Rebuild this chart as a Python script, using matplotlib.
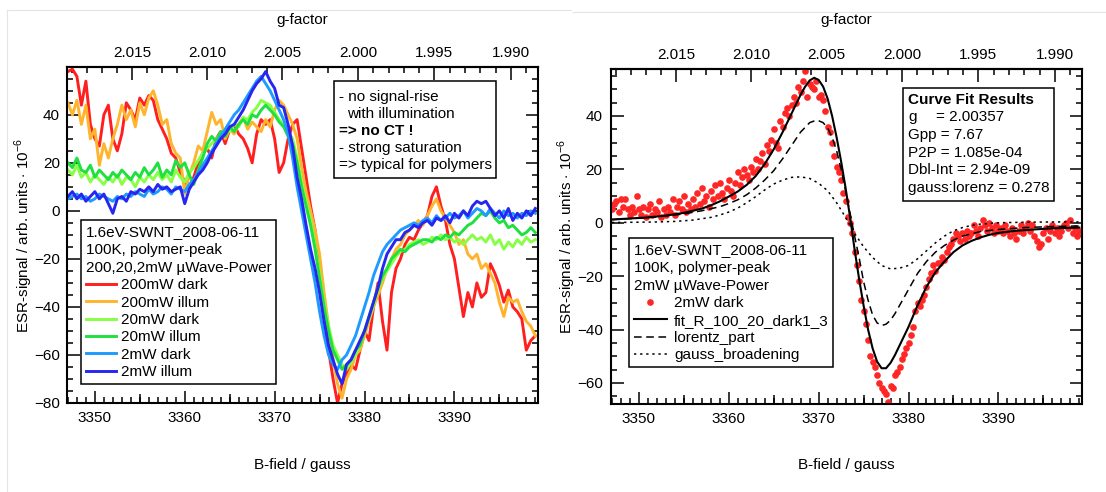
import numpy as np
import matplotlib
matplotlib.use("Agg")
import matplotlib.pyplot as plt
from matplotlib.ticker import MultipleLocator, FixedLocator, FormatStrFormatter
from matplotlib.patches import Rectangle
from matplotlib.lines import Line2D

np.seterr(divide='ignore', invalid='ignore')
plt.rcParams['font.family'] = ['Liberation Sans', 'DejaVu Sans']
plt.rcParams['mathtext.fontset'] = 'custom'
plt.rcParams['mathtext.rm'] = 'Liberation Sans'

# ------------------------------------------------------------------ data
G_CONST = 6758.6          # g * B  (gauss), converts field to g-factor
g_ticks = [2.015, 2.010, 2.005, 2.000, 1.995, 1.990]
b_ticks = [3350, 3360, 3370, 3380, 3390]
b_mid_ticks = [3355, 3365, 3375, 3385, 3395]

# left panel: field grid (0.5 G) and six spectra (1e-6 arb. units)
b_left = np.arange(3347.0, 3399.01, 0.5)

sig_200mw_dark = [
    58, 59, 56, 44, 54, 36, 30, 27, 40, 44,
    30, 25, 32, 45, 42, 38, 47, 44, 48, 46,
    38, 34, 30, 24, 22, 16, 12, 10, 14, 20,
    24, 26, 22, 30, 33, 28, 34, 36, 32, 30,
    26, 20, 32, 38, 36, 38, 30, 16, 20, 30,
    36, 38, 26, 14, 2, -8, -24, -42, -58, -70,
    -80, -72, -68, -64, -66, -58, -50, -54, -40, -30,
    -46, -58, -34, -24, -20, -14, -11, -12, -8, -5,
    -2, 6, 10, 2, -4, -14, -20, -32, -44, -34,
    -40, -30, -36, -34, -22, -26, -31, -38, -33, -40,
    -42, -45, -58, -54, -52]

sig_200mw_illum = [
    45, 40, 46, 36, 44, 30, 34, 19, 28, 22,
    30, 36, 44, 38, 42, 35, 45, 40, 47, 50,
    44, 36, 38, 28, 24, 22, 7, 15, 20, 27,
    25, 33, 41, 36, 38, 30, 34, 32, 36, 39,
    34, 37, 35, 33, 38, 35, 42, 46, 44, 40,
    36, 30, 18, 8, 0, -8, -18, -34, -48, -62,
    -72, -78, -70, -66, -60, -58, -52, -46, -40, -35,
    -30, -24, -20, -16, -14, -10, -8, -6, -4, -6,
    -2, 2, 5, 0, -3, -6, -9, -14, -12, -18,
    -20, -18, -24, -22, -26, -30, -38, -44, -36, -38,
    -37, -42, -46, -48, -52]

sig_20mw_dark = [
    17, 15, 19, 14, 16, 12, 15, 13, 11, 14,
    12, 15, 11, 14, 13, 10, 14, 12, 15, 13,
    16, 13, 15, 12, 17, 14, 12, 16, 18, 21,
    24, 26, 28, 30, 32, 34, 33, 36, 35, 39,
    38, 41, 43, 46, 45, 44, 41, 38, 36, 33,
    30, 22, 12, 4, -4, -14, -26, -38, -48, -56,
    -60, -64, -66, -63, -60, -56, -50, -45, -39, -33,
    -28, -25, -22, -19, -17, -16, -14, -13, -12, -14,
    -13, -11, -12, -10, -12, -11, -13, -12, -14, -12,
    -10, -12, -11, -13, -10, -14, -12, -16, -13, -15,
    -12, -14, -11, -13, -12]

sig_20mw_illum = [
    20, 18, 22, 17, 16, 19, 14, 17, 15, 13,
    16, 14, 17, 15, 13, 16, 14, 18, 15, 17,
    20, 14, 17, 15, 21, 18, 20, 15, 11, 17,
    22, 28, 31, 29, 33, 31, 35, 33, 36, 38,
    36, 40, 39, 42, 44, 42, 40, 37, 35, 31,
    28, 20, 10, 2, -6, -16, -28, -40, -50, -58,
    -62, -66, -64, -62, -58, -56, -50, -44, -38, -32,
    -27, -24, -20, -18, -16, -17, -15, -14, -13, -12,
    -12, -13, -11, -12, -10, -11, -9, -10, -8, -6,
    -5, -3, -1, -2, 0, -3, -5, -4, -7, -6,
    -8, -10, -9, -7, -9]

sig_2mw_dark = [
    5, 6, 7, 5, 6, 4, 5, 7, 6, 5,
    4, 6, 5, 7, 6, 8, 7, 6, 9, 7,
    8, 10, 9, 7, 10, 9, 8, 11, 13, 16,
    19, 22, 25, 28, 31, 34, 37, 40, 42, 45,
    48, 51, 54, 56, 53, 50, 46, 42, 38, 32,
    22, 10, 0, -10, -20, -30, -42, -52, -60, -64,
    -66, -62, -60, -56, -52, -46, -40, -34, -27, -22,
    -17, -14, -12, -10, -8, -7, -6, -5, -6, -4,
    -3, -5, -2, -4, -3, -1, -3, -2, 0, -3,
    -1, 1, 0, -2, 1, -1, -3, 0, -2, -1,
    -3, -1, -2, 0, -1]

sig_2mw_illum = [
    6, 8, 5, 7, 4, 6, 8, 5, 7, 3,
    -1, 5, 6, 4, 8, 7, 9, 8, 10, 8,
    11, 9, 10, 8, 9, 10, 3, 9, 12, 15,
    17, 20, 24, 27, 30, 32, 35, 36, 39, 42,
    46, 50, 53, 55, 58, 54, 51, 44, 43, 36,
    27, 14, 5, -6, -16, -24, -34, -46, -56, -62,
    -68, -72, -64, -62, -58, -54, -50, -44, -38, -32,
    -24, -18, -15, -12, -12, -9, -8, -6, -7, -5,
    -4, -6, -3, -4, -2, -5, -1, -3, 0, -2,
    2, 4, 3, 4, 1, -2, 0, -3, 1, -4,
    -1, -3, 0, -2, 1]

left_names = ["200mW dark", "200mW illum", "20mW dark", "20mW illum", "2mW dark", "2mW illum"]
left_values = [sig_200mw_dark, sig_200mw_illum, sig_20mw_dark, sig_20mw_illum, sig_2mw_dark, sig_2mw_illum]
left_colors = ["#ff1f1f", "#ffb42e", "#86ff44", "#1ee03e", "#1e9bff", "#2626f0"]

# right panel: measured points (0.25 G grid) and fit components
b_dots = np.arange(3347.0, 3399.01, 0.25)
dots_2mw_dark = [
    5, 7, 8, 4, 9, 6, 9, 5, 3, 6, 4, 10, 5, 3, 6, 2, 5, 7, 3, 5,
    4, 8, 2, 5, 3, 6, 4, 9, 3, 6, 8, 5, 10, 4, 7, 5, 9, 6, 11, 7,
    13, 8, 10, 6, 12, 9, 14, 10, 15, 11, 9, 13, 16, 12, 10, 15, 19, 14, 17, 20,
    18, 16, 21, 19, 24, 20, 23, 26, 22, 29, 27, 31, 35, 30, 28, 38, 36, 41, 43, 40,
    44, 47, 45, 51, 49, 53, 57, 47, 52, 51, 50, 53, 47, 48, 46, 42, 36, 34, 30, 25,
    21, 19, 16, 11, 8, 2, 0, -4, -11, -16, -22, -29, -33, -38, -44, -50, -52, -54, -57, -60,
    -62, -63, -64, -67, -61, -62, -57, -56, -54, -51, -49, -47, -45, -42, -39, -33, -30, -31, -29, -27,
    -24, -21, -19, -16, -18, -15, -15, -13, -14, -11, -9, -8, -6, -4, -5, -7, -4, -6, -3, -5,
    -4, -1, -3, -5, -2, 1, -1, -3, 0, -2, -4, -1, -3, -2, -4, -1, -3, -5, -2, -4,
    -6, -3, -1, -4, -2, 0, -3, -1, -5, -7, -9, -8, -4, -2, -6, -3, -1, -4, -2, -5,
    -3, -1, 0, -2, 1, -4, -2, -5, -3]

fit_b = [3347, 3349, 3351, 3353, 3355, 3357, 3358, 3359, 3360, 3361,
         3362, 3363, 3364, 3365, 3366, 3367, 3368, 3368.5, 3369, 3369.5,
         3370, 3370.5, 3371, 3371.5, 3372, 3372.5, 3373, 3373.5, 3374, 3374.5,
         3375, 3375.5, 3376, 3376.5, 3377, 3377.5, 3378, 3378.5, 3379, 3379.5,
         3380, 3381, 3382, 3383, 3384, 3385, 3386, 3387, 3388, 3389,
         3390, 3392, 3394, 3396, 3399]
fit_vals = [1.2, 1.6, 2.0, 2.7, 3.7, 5.3, 6.5, 8.0, 9.8, 11.7,
            14.2, 17.5, 22, 27.5, 34, 41, 48, 51, 53.3, 54.3,
            53.5, 51, 46.5, 40, 32, 23, 13, 2, -10, -21,
            -31, -40, -47, -52, -54.5, -54.5, -52.5, -49.5, -46, -42.5,
            -39, -31, -24, -18.5, -14.5, -11, -8.5, -6.8, -5.5, -4.5,
            -3.8, -3.0, -2.5, -2.1, -1.8]

lor_b = [3347, 3350, 3353, 3355, 3357, 3359, 3360, 3361, 3362, 3363,
         3364, 3365, 3366, 3367, 3368, 3369, 3369.8, 3370.5, 3371, 3371.5,
         3372, 3372.5, 3373, 3373.5, 3374, 3374.5, 3375, 3375.5, 3376, 3376.5,
         3377, 3377.5, 3378, 3378.5, 3379, 3380, 3381, 3382, 3383, 3384,
         3385, 3386, 3388, 3390, 3393, 3396, 3399]
lor_vals = [1.2, 1.7, 2.5, 3.3, 4.5, 6.0, 7.2, 8.6, 10.5, 13.0,
            16.0, 19.5, 24.0, 29.0, 34.0, 37.5, 38.5, 37.5, 35.5, 32.0,
            27.0, 20.0, 12.0, 3.5, -5.0, -13.0, -22.0, -29.0, -34.5, -37.5,
            -38.5, -38.0, -36.5, -34.0, -31.0, -25.0, -19.0, -14.5, -11.0, -8.5,
            -6.5, -5.0, -3.3, -2.5, -1.8, -1.4, -1.2]

gau_b = [3347, 3350, 3352, 3354, 3356, 3358, 3359, 3360, 3361, 3362,
         3363, 3364, 3365, 3366, 3367, 3368, 3369, 3370, 3371, 3372,
         3373, 3374, 3375, 3376, 3377, 3378, 3379, 3380, 3381, 3382,
         3383, 3384, 3385, 3386, 3387, 3388, 3390, 3393, 3396, 3399]
gau_vals = [0.1, 0.2, 0.3, 0.5, 1.0, 2.0, 2.9, 4.0, 5.5, 7.5,
            9.8, 12.3, 14.5, 16.0, 17.0, 17.2, 16.6, 14.8, 12.0, 7.5,
            2.0, -4.0, -9.0, -13.0, -16.0, -17.3, -17.0, -16.0, -13.5, -10.5,
            -7.5, -5.0, -3.0, -1.8, -1.0, -0.5, 0.0, 0.2, 0.3, 0.3]

# ------------------------------------------------------------------ figure
W, H = 1106, 492
FS = 11
fig = plt.figure(figsize=(W / 100, H / 100), dpi=100)
fig.patch.set_facecolor('white')


def fx(x):
    return x / W


def fy(y):
    return 1 - y / H


def add_ax(x0, x1, yt, yb):
    return fig.add_axes([x0 / W, 1 - yb / H, (x1 - x0) / W, (yb - yt) / H])


def b2g(b):
    return G_CONST / np.asarray(b, dtype=float)


def g2b(g):
    return G_CONST / np.asarray(g, dtype=float)


def style_axes(ax, ylim, ylab_x, xlab_y, ypad):
    ax.set_xlim(3346.9, 3399.3)
    ax.set_ylim(*ylim)
    for s in ax.spines.values():
        s.set_linewidth(1.5)
    ax.xaxis.set_major_locator(FixedLocator(b_ticks))
    ax.xaxis.set_minor_locator(MultipleLocator(1))
    ax.yaxis.set_major_locator(MultipleLocator(20))
    ax.yaxis.set_minor_locator(MultipleLocator(5))
    ax.tick_params(which='both', direction='in', top=False, right=True,
                   width=1.1, labelsize=FS, colors='black')
    ax.tick_params(which='major', length=9)
    ax.tick_params(axis='x', which='major', pad=6)
    ax.tick_params(axis='y', which='major', pad=ypad)
    ax.tick_params(which='minor', length=4)
    mid = ax.secondary_xaxis('bottom')
    mid.set_xticks(b_mid_ticks)
    mid.tick_params(direction='in', length=6.5, width=1.1, labelbottom=False)
    mid.spines['bottom'].set_visible(False)
    sec = ax.secondary_xaxis('top', functions=(b2g, g2b))
    sec.xaxis.set_major_locator(FixedLocator(g_ticks))
    sec.xaxis.set_minor_locator(MultipleLocator(0.001))
    sec.xaxis.set_major_formatter(FormatStrFormatter('%.3f'))
    sec.tick_params(which='both', direction='in', width=1.1, labelsize=FS)
    sec.tick_params(which='major', length=9, pad=5)
    sec.tick_params(which='minor', length=4)
    sec.spines['top'].set_linewidth(1.5)
    ax.set_xlabel('B-field / gauss', fontsize=FS)
    ax.xaxis.set_label_coords(0.5, xlab_y)
    ax.xaxis.label.set_va('center')
    ax.set_ylabel('ESR-signal / arb. units $\\cdot$ 10$^{-6}$', fontsize=FS)
    ax.yaxis.set_label_coords(ylab_x, 0.5)
    ax.yaxis.label.set_va('center')


def make_legend(ax, handles, title, x, y, hlen, hpad):
    leg = ax.legend(handles=handles, loc='upper left',
                    bbox_to_anchor=(fx(x), fy(y)), bbox_transform=fig.transFigure,
                    title=title, alignment='left',
                    prop={'family': ['Liberation Sans', 'DejaVu Sans'], 'size': FS},
                    title_fontproperties={'family': ['Liberation Sans', 'DejaVu Sans'], 'size': FS},
                    frameon=True, fancybox=False, framealpha=1, edgecolor='black',
                    borderaxespad=0, handlelength=hlen, handletextpad=hpad,
                    borderpad=0.3, labelspacing=0.22, numpoints=1)
    leg.get_frame().set_linewidth(1.1)
    leg.get_title().set_linespacing(1.38)
    return leg


def text_box(x0, y0, x1, y1, rows):
    fig.add_artist(Rectangle((fx(x0), fy(y1)), fx(x1) - fx(x0), fy(y0) - fy(y1),
                             transform=fig.transFigure, facecolor='white',
                             edgecolor='black', lw=1.1, zorder=5))
    for t, x, y, w in rows:
        fig.text(fx(x), fy(y), t, fontsize=FS, fontweight=w, va='center', ha='left', zorder=6)


# ---------------- left panel
axL = add_ax(67, 538, 67, 403)
lines_left = []
for name, vals, col in zip(left_names, left_values, left_colors):
    ln, = axL.plot(b_left, vals, color=col, lw=2.1, label=name, solid_joinstyle='round')
    lines_left.append(ln)
style_axes(axL, (-80, 59.9), (24 - 67) / 471, (403 - 465) / 336, 5)
fig.text(fx(302), fy(20), 'g-factor', fontsize=FS, ha='center', va='center')

make_legend(axL, lines_left,
            "1.6eV-SWNT_2008-06-11\n100K, polymer-peak\n200,20,2mW \u00b5Wave-Power",
            81, 220, 2.0, 0.35)

text_box(334, 81, 496, 178,
         [("- no signal-rise", 339, 97, 'normal'),
          ("with illumination", 347, 114, 'normal'),
          ("=> no CT !", 339, 131, 'bold'),
          ("- strong saturation", 339, 148, 'normal'),
          ("=> typical for polymers", 339, 165, 'normal')])

# ---------------- right panel
axR = add_ax(611, 1082, 69, 404)
pts, = axR.plot(b_dots, dots_2mw_dark, ls='none', marker='o', ms=4.8, mew=0,
                color='#ff2626', label='2mW dark')
fit_ln, = axR.plot(fit_b, fit_vals, color='black', lw=1.5, label='fit_R_100_20_dark1_3')
lor_ln, = axR.plot(lor_b, lor_vals, color='black', lw=1.1, ls=(0, (5, 3)), label='lorentz_part')
gau_ln, = axR.plot(gau_b, gau_vals, color='black', lw=1.1, ls=(0, (1.5, 2.5)), label='gauss_broadening')
style_axes(axR, (-67.9, 57.6), (567 - 611) / 471, (404 - 465) / 335, 6)
fig.text(fx(846), fy(20), 'g-factor', fontsize=FS, ha='center', va='center')

make_legend(axR, [pts, fit_ln, lor_ln, gau_ln],
            "1.6eV-SWNT_2008-06-11\n100K, polymer-peak\n2mW \u00b5Wave-Power",
            629, 238, 2.2, 0.45)

text_box(903, 88, 1054, 201,
         [("Curve Fit Results", 908, 100, 'bold'),
          ("g", 908, 117, 'normal'),
          ("= 2.00357", 936, 117, 'normal'),
          ("Gpp = 7.67", 908, 135, 'normal'),
          ("P2P = 1.085e-04", 908, 153, 'normal'),
          ("Dbl-Int = 2.94e-09", 908, 170, 'normal'),
          ("gauss:lorenz = 0.278", 908, 188, 'normal')])

# faint panel borders
for xs, ys in [((7, 7), (10, 492)), ((7, 571), (10, 10)), ((573, 1106), (12, 12))]:
    fig.add_artist(Line2D([fx(xs[0]), fx(xs[1])], [fy(ys[0]), fy(ys[1])],
                          transform=fig.transFigure, color='#e4e4e4', lw=0.8))

fig.savefig('out.png', dpi=100, facecolor='white')
